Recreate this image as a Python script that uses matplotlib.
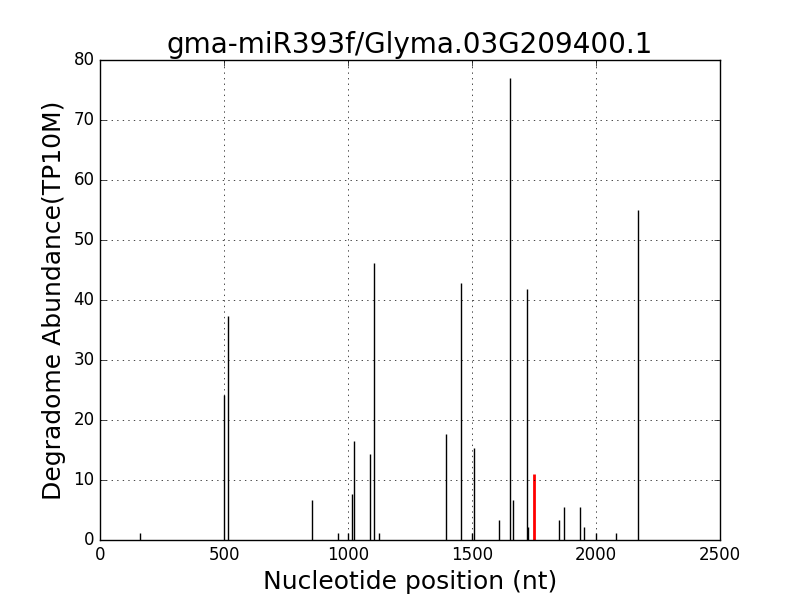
import numpy as np
import matplotlib
matplotlib.use('Agg')
import matplotlib.pyplot as plt

plt.style.use('classic')

# degradome peaks: position (nt) and abundance (TP10M)
positions = [163, 502, 517, 856, 961, 1001, 1017, 1025, 1089, 1106, 1126,
             1397, 1457, 1502, 1509, 1610, 1655, 1667, 1723, 1727,
             1852, 1872, 1937, 1953, 2001, 2082, 2171]
abundance = [1.1, 24.2, 37.4, 6.6, 1.1, 1.1, 7.7, 16.5, 14.3, 46.2, 1.1,
             17.6, 42.9, 1.1, 15.4, 3.3, 77.0, 6.6, 41.8, 2.2,
             3.3, 5.5, 5.5, 2.2, 1.1, 1.1, 55.0]
# the cleavage site of the miRNA
target_pos = [1750]
target_val = [11.0]

fig = plt.figure(figsize=(8, 6), dpi=100, facecolor='white')
ax = fig.add_subplot(111)
ax.set_position([0.125, 0.1, 0.775, 0.8])

ax.vlines(positions, 0, abundance, colors='black', linewidth=1)
ax.vlines(target_pos, 0, target_val, colors='red', linewidth=2)

ax.set_xlim(0, 2500)
ax.set_ylim(0, 80)
ax.set_title('gma-miR393f/Glyma.03G209400.1', fontsize=20)
ax.set_xlabel('Nucleotide position (nt)', fontsize=18)
ax.set_ylabel('Degradome Abundance(TP10M)', fontsize=18)
ax.tick_params(labelsize=12)
ax.grid(True)

fig.savefig('out.png', dpi=100, facecolor='white')
